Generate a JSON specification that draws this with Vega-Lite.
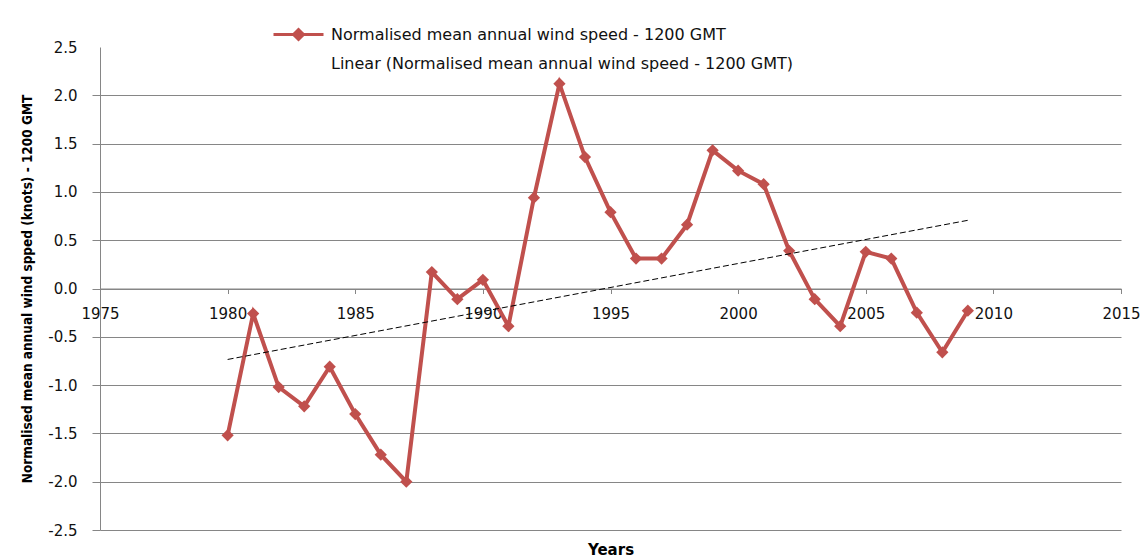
{
  "$schema": "https://vega.github.io/schema/vega-lite/v6.json",
  "width": 1021,
  "height": 483,
  "autosize": {"type": "none"},
  "padding": {"left": 100, "top": 47, "right": 25, "bottom": 29},
  "background": "white",
  "data": {"values": [
    {"year": 1980, "value": -1.52},
    {"year": 1981, "value": -0.26},
    {"year": 1982, "value": -1.02},
    {"year": 1983, "value": -1.22},
    {"year": 1984, "value": -0.81},
    {"year": 1985, "value": -1.30},
    {"year": 1986, "value": -1.72},
    {"year": 1987, "value": -2.00},
    {"year": 1988, "value": 0.17},
    {"year": 1989, "value": -0.11},
    {"year": 1990, "value": 0.09},
    {"year": 1991, "value": -0.39},
    {"year": 1992, "value": 0.94},
    {"year": 1993, "value": 2.12},
    {"year": 1994, "value": 1.36},
    {"year": 1995, "value": 0.79},
    {"year": 1996, "value": 0.31},
    {"year": 1997, "value": 0.31},
    {"year": 1998, "value": 0.66},
    {"year": 1999, "value": 1.43},
    {"year": 2000, "value": 1.22},
    {"year": 2001, "value": 1.08},
    {"year": 2002, "value": 0.39},
    {"year": 2003, "value": -0.11},
    {"year": 2004, "value": -0.39},
    {"year": 2005, "value": 0.38},
    {"year": 2006, "value": 0.31},
    {"year": 2007, "value": -0.25},
    {"year": 2008, "value": -0.66},
    {"year": 2009, "value": -0.23}
  ]},
  "encoding": {
    "x": {
      "field": "year", "type": "quantitative",
      "scale": {"domain": [1975, 2015], "nice": false, "zero": false},
      "axis": {
        "offset": -241.5,
        "values": [1975, 1980, 1985, 1990, 1995, 2000, 2005, 2010, 2015],
        "format": "d",
        "grid": false,
        "tickSize": 5,
        "labelPadding": 13,
        "labelFlush": false,
        "title": "Years",
        "titleFont": "DejaVu Sans",
        "titleFontWeight": "bold",
        "titleFontSize": 15,
        "titleBaseline": "top",
        "titleY": 254
      }
    },
    "y": {
      "field": "value", "type": "quantitative",
      "scale": {"domain": [-2.5, 2.5], "nice": false},
      "axis": {
        "values": [-2.5, -2.0, -1.5, -1.0, -0.5, 0, 0.5, 1.0, 1.5, 2.0, 2.5],
        "labelExpr": "replace(format(datum.value, '.1f'), '−', '-')",
        "grid": true,
        "gridOpacity": {"condition": {"test": "datum.value === 2.5", "value": 0}, "value": 1},
        "tickOpacity": {"condition": {"test": "datum.value === 2.5", "value": 0}, "value": 1},
        "tickSize": 8,
        "labelPadding": 15,
        "title": "Normalised mean annual wind spped (knots) - 1200 GMT",
        "titleFont": "Liberation Sans Narrow, DejaVu Sans Condensed, Roboto, sans-serif",
        "titleFontWeight": "bold",
        "titleFontSize": 13.5,
        "titleAngle": 270,
        "titleAlign": "center",
        "titleBaseline": "middle",
        "titleX": -73,
        "titleY": 241.5
      }
    }
  },
  "layer": [
    {
      "mark": {"type": "line", "strokeWidth": 4, "point": {"shape": "diamond", "size": 150, "filled": true}},
      "encoding": {
        "color": {
          "datum": "Normalised mean annual wind speed - 1200 GMT",
          "legend": {
            "encode": {
              "symbols": {
                "update": {
                  "opacity": {"signal": "datum.index === 1 ? 0 : 1"},
                  "fill": {"value": "#C0504D"},
                  "stroke": {"value": "#C0504D"}
                }
              }
            }
          }
        }
      }
    },
    {
      "transform": [{"regression": "value", "on": "year"}],
      "mark": {"type": "line", "strokeWidth": 1, "strokeDash": [6, 3]},
      "encoding": {
        "color": {"datum": "Linear (Normalised mean annual wind speed - 1200 GMT)"}
      }
    },
    {
      "data": {"values": [{"label": "y = 0.049x - 0.791"}]},
      "mark": {"type": "text", "font": "DejaVu Sans", "fontSize": 15, "color": "#222222", "align": "center", "baseline": "middle"},
      "encoding": {
        "text": {"field": "label", "type": "nominal"},
        "x": {"datum": 2009, "type": "quantitative"},
        "y": {"datum": 1.87, "type": "quantitative"}
      }
    }
  ],
  "resolve": {"scale": {"color": "shared"}},
  "config": {
    "view": {"stroke": null},
    "range": {"category": ["#C0504D", "#000000"]},
    "axis": {
      "domainColor": "#868686",
      "tickColor": "#868686",
      "gridColor": "#868686",
      "labelFont": "DejaVu Sans",
      "labelFontSize": 15,
      "labelColor": "#111111",
      "titleColor": "#000000"
    },
    "legend": {
      "orient": "none",
      "legendX": 172,
      "legendY": -27,
      "title": null,
      "padding": 0,
      "symbolType": "M-1,0H1M-0.2,0L0,-0.2L0.2,0L0,0.2Z",
      "symbolSize": 2500,
      "symbolStrokeWidth": 3,
      "symbolFillColor": "#C0504D",
      "symbolStrokeColor": "#C0504D",
      "labelFont": "DejaVu Sans",
      "labelFontSize": 16,
      "labelColor": "#111111",
      "labelOffset": 6,
      "labelLimit": 800,
      "clipHeight": 29,
      "rowPadding": 0
    }
  }
}
